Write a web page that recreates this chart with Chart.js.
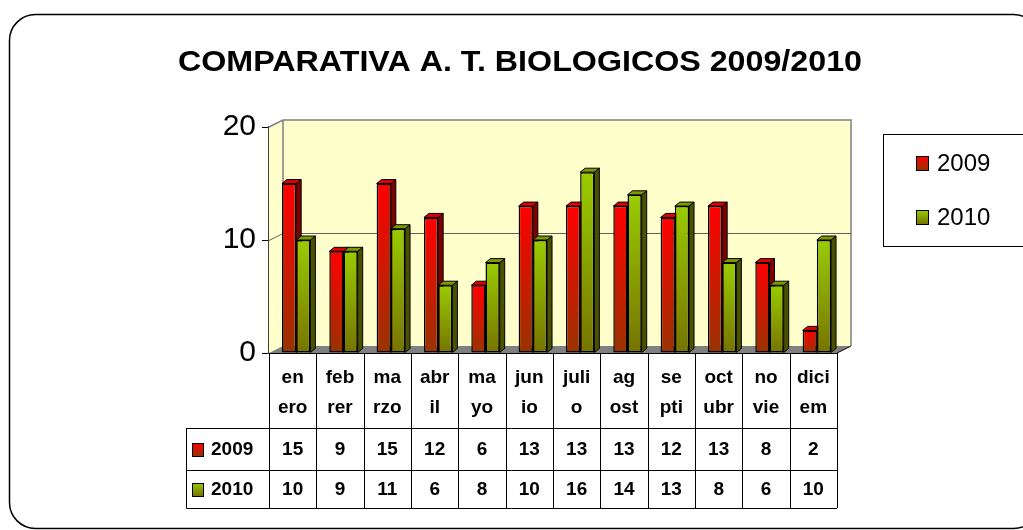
<!DOCTYPE html>
<html>
<head>
  <meta charset="utf-8">
  <script src="https://cdn.jsdelivr.net/npm/chart.js@4"></script>
  <style>
    html, body { margin: 0; padding: 0; background: #fff; }
    canvas { display: block; }
  </style>
</head>
<body>
  <canvas id="bioChart" width="1023" height="530"></canvas>

  <script>
    // data
    const months = [
      ["en", "ero"], ["feb", "rer"], ["ma", "rzo"], ["abr", "il"],
      ["ma", "yo"], ["jun", "io"], ["juli", "o"], ["ag", "ost"],
      ["se", "pti"], ["oct", "ubr"], ["no", "vie"], ["dici", "em"]
    ];
    const seriesNames = ["2009", "2010"];
    const values2009 = [15, 9, 15, 12, 6, 13, 13, 13, 12, 13, 8, 2];
    const values2010 = [10, 9, 11, 6, 8, 10, 16, 14, 13, 8, 6, 10];
    const yTicks = [0, 10, 20];
    const titleText = "COMPARATIVA A. T. BIOLOGICOS 2009/2010";

    const FONT = "'Liberation Sans', Arial, sans-serif";
    const DEPTH_X = 14, DEPTH_Y = 7;   // back wall offset
    const BAR_DX = 5, BAR_DY = 4;      // bar depth
    const BAR_SHIFT = 3.5;             // bars sit a little back from the front plane

    const colors = [
      { top: "#FF0000", bottom: "#993300", side: "#800000", cap: "#E00000" },
      { top: "#99CC00", bottom: "#767400", side: "#4A5200", cap: "#7F9A00" }
    ];

    function barGradient(idx) {
      return (context) => {
        const chart = context.chart;
        const c = colors[idx];
        if (!chart.chartArea || !chart.scales.y || context.parsed == null) return c.top;
        const y = chart.scales.y;
        const top = y.getPixelForValue(context.parsed.y);
        const bottom = y.getPixelForValue(0);
        const g = chart.ctx.createLinearGradient(0, top, 0, bottom);
        g.addColorStop(0, c.top);
        g.addColorStop(1, c.bottom);
        return g;
      };
    }

    const wallPlugin = {
      id: "wall3d",
      beforeDraw(chart) {
        const ctx = chart.ctx;
        // rounded outer frame
        ctx.save();
        ctx.strokeStyle = "#000";
        ctx.lineWidth = 1.5;
        ctx.beginPath();
        ctx.roundRect(9.5, 14.5, 1030, 514, 26);
        ctx.stroke();
        ctx.restore();
      },
      beforeDatasetsDraw(chart) {
        const ctx = chart.ctx;
        const a = chart.chartArea;
        const y = chart.scales.y;
        ctx.save();
        // side wall
        ctx.fillStyle = "#FFFFCC";
        ctx.beginPath();
        ctx.moveTo(a.left, a.top);
        ctx.lineTo(a.left + DEPTH_X, a.top - DEPTH_Y);
        ctx.lineTo(a.left + DEPTH_X, a.bottom - DEPTH_Y);
        ctx.lineTo(a.left, a.bottom);
        ctx.closePath();
        ctx.fill();
        // back wall
        ctx.fillRect(a.left + DEPTH_X, a.top - DEPTH_Y, a.right - a.left, a.bottom - a.top);
        ctx.strokeStyle = "#808080";
        ctx.lineWidth = 1.5;
        ctx.beginPath();
        ctx.moveTo(a.left, a.top);
        ctx.lineTo(a.left + DEPTH_X, a.top - DEPTH_Y);
        ctx.lineTo(a.right + DEPTH_X, a.top - DEPTH_Y);
        ctx.lineTo(a.right + DEPTH_X, a.bottom - DEPTH_Y);
        ctx.moveTo(a.left + DEPTH_X, a.top - DEPTH_Y);
        ctx.lineTo(a.left + DEPTH_X, a.bottom - DEPTH_Y);
        ctx.stroke();
        // gridlines on the back wall
        ctx.strokeStyle = "#606060";
        ctx.lineWidth = 1;
        yTicks.forEach(t => {
          if (t === 0 || t === yTicks[yTicks.length - 1]) return;
          const py = Math.round(y.getPixelForValue(t)) + 0.5;
          ctx.beginPath();
          ctx.moveTo(a.left, py);
          ctx.lineTo(a.left + DEPTH_X, py - DEPTH_Y);
          ctx.lineTo(a.right + DEPTH_X, py - DEPTH_Y);
          ctx.stroke();
        });
        // floor
        ctx.fillStyle = "#808080";
        ctx.beginPath();
        ctx.moveTo(a.left, a.bottom);
        ctx.lineTo(a.left + DEPTH_X, a.bottom - DEPTH_Y);
        ctx.lineTo(a.right + DEPTH_X, a.bottom - DEPTH_Y);
        ctx.lineTo(a.right, a.bottom);
        ctx.closePath();
        ctx.fill();
        ctx.strokeStyle = "#000";
        ctx.beginPath();
        ctx.moveTo(a.right, a.bottom);
        ctx.lineTo(a.right + DEPTH_X, a.bottom - DEPTH_Y);
        ctx.stroke();
        ctx.restore();

        // bar sides and tops, drawn before the fronts; the shift stays until afterDatasetsDraw
        ctx.save();
        ctx.translate(BAR_SHIFT, 0);
        ctx.save();
        ctx.strokeStyle = "#000";
        ctx.lineWidth = 1;
        const metas = chart.data.datasets.map((d, i) => chart.getDatasetMeta(i));
        for (let i = 0; i < months.length; i++) {
          metas.forEach((meta, di) => {
            const bar = meta.data[i];
            const p = bar.getProps(["x", "y", "base", "width"], true);
            const l = p.x - p.width / 2, r = p.x + p.width / 2;
            const c = colors[di];
            ctx.fillStyle = c.side;
            ctx.beginPath();
            ctx.moveTo(r, p.y);
            ctx.lineTo(r + BAR_DX, p.y - BAR_DY);
            ctx.lineTo(r + BAR_DX, p.base - BAR_DY);
            ctx.lineTo(r, p.base);
            ctx.closePath();
            ctx.fill();
            ctx.stroke();
            ctx.fillStyle = c.cap;
            ctx.beginPath();
            ctx.moveTo(l, p.y);
            ctx.lineTo(l + BAR_DX, p.y - BAR_DY);
            ctx.lineTo(r + BAR_DX, p.y - BAR_DY);
            ctx.lineTo(r, p.y);
            ctx.closePath();
            ctx.fill();
            ctx.stroke();
          });
        }
        ctx.restore();
      },
      afterDatasetsDraw(chart) {
        chart.ctx.restore();
      },
      afterDraw(chart) {
        const ctx = chart.ctx;
        const a = chart.chartArea;
        const x = chart.scales.x;
        ctx.save();

        // title, squeezed a little like the original
        ctx.font = "bold 30px " + FONT;
        ctx.fillStyle = "#000";
        ctx.textBaseline = "middle";
        ctx.textAlign = "center";
        const tw = ctx.measureText(titleText).width;
        const sx = 684 / tw;
        ctx.save();
        ctx.translate(520, 63);
        ctx.scale(sx, 1);
        ctx.fillText(titleText, 0, 0);
        ctx.restore();

        // legend box
        ctx.strokeStyle = "#000";
        ctx.lineWidth = 1;
        ctx.strokeRect(883.5, 134.5, 160, 112);
        ctx.font = "24px " + FONT;
        ctx.textAlign = "left";
        seriesNames.forEach((name, i) => {
          const cy = 163 + i * 54;
          drawSwatch(ctx, 916, cy - 7, 12, 14, i);
          ctx.fillStyle = "#000";
          ctx.fillText(name, 937, cy + 1);
        });

        // data table
        const step = x.getPixelForValue(1) - x.getPixelForValue(0);
        const tLeft = 186.5;
        const rows = [a.bottom, 428, 470, 508];
        ctx.strokeStyle = "#000";
        ctx.lineWidth = 1;
        ctx.beginPath();
        for (let i = 0; i <= months.length; i++) {
          const ex = Math.round(x.getPixelForValue(0) - step / 2 + i * step) + 0.5;
          ctx.moveTo(ex, rows[0]);
          ctx.lineTo(ex, rows[3]);
        }
        ctx.moveTo(a.left, rows[0] + 0.5);
        ctx.lineTo(a.right, rows[0] + 0.5);
        [1, 2, 3].forEach(k => {
          ctx.moveTo(tLeft, rows[k] + 0.5);
          ctx.lineTo(a.right, rows[k] + 0.5);
        });
        ctx.moveTo(tLeft, rows[1]);
        ctx.lineTo(tLeft, rows[3] + 0.5);
        ctx.stroke();

        ctx.font = "bold 19px " + FONT;
        ctx.fillStyle = "#000";
        ctx.textAlign = "center";
        months.forEach((m, i) => {
          const cx = x.getPixelForValue(i);
          ctx.fillText(m[0], cx, 378);
          ctx.fillText(m[1], cx, 408);
          ctx.fillText(String(values2009[i]), cx, 450);
          ctx.fillText(String(values2010[i]), cx, 490);
        });
        ctx.textAlign = "left";
        [450, 490].forEach((cy, i) => {
          drawSwatch(ctx, 192, cy - 7, 11, 13, i);
          ctx.fillStyle = "#000";
          ctx.fillText(seriesNames[i], 211, cy);
        });
        ctx.restore();
      }
    };

    function drawSwatch(ctx, sx, sy, w, h, idx) {
      const g = ctx.createLinearGradient(0, sy, 0, sy + h);
      g.addColorStop(0, colors[idx].top);
      g.addColorStop(1, colors[idx].bottom);
      ctx.fillStyle = g;
      ctx.fillRect(sx, sy, w, h);
      ctx.strokeStyle = "#000";
      ctx.lineWidth = 1;
      ctx.strokeRect(sx + 0.5, sy + 0.5, w, h);
    }

    new Chart(document.getElementById("bioChart"), {
      type: "bar",
      data: {
        labels: months,
        datasets: [
          {
            label: seriesNames[0],
            data: values2009,
            backgroundColor: barGradient(0),
            borderColor: "#000",
            borderWidth: 1.5,
            borderSkipped: false,
            categoryPercentage: 0.6,
            barPercentage: 1.0
          },
          {
            label: seriesNames[1],
            data: values2010,
            backgroundColor: barGradient(1),
            borderColor: "#000",
            borderWidth: 1.5,
            borderSkipped: false,
            categoryPercentage: 0.6,
            barPercentage: 1.0
          }
        ]
      },
      options: {
        responsive: false,
        animation: false,
        layout: { padding: { left: 200, right: 186, top: 127, bottom: 177 } },
        scales: {
          x: { display: false },
          y: {
            min: yTicks[0],
            max: yTicks[yTicks.length - 1],
            afterFit: (scale) => { scale.width = 69; },
            afterBuildTicks: (scale) => { scale.ticks = yTicks.map(v => ({ value: v })); },
            ticks: { color: "#000", padding: 6, font: { size: 30, family: FONT } },
            grid: { drawOnChartArea: false, tickLength: 7, color: "#000" },
            border: { color: "#404040", width: 1.5 }
          }
        },
        plugins: {
          legend: { display: false },
          tooltip: { enabled: false }
        }
      },
      plugins: [wallPlugin]
    });
  </script>
</body>
</html>
